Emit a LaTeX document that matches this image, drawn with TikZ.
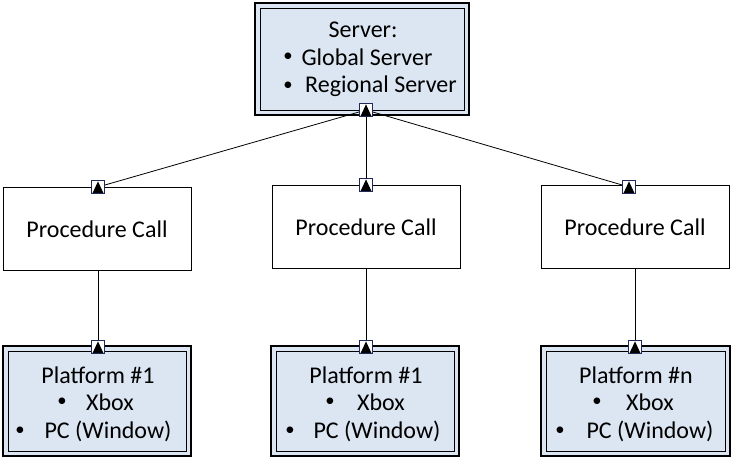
\documentclass[tikz,border=0pt]{standalone}
\usepackage{fontspec}
\setmainfont{Carlito}
\begin{document}
\begin{tikzpicture}[x=0.75pt,y=-0.75pt,
  txt/.style={font=\fontsize{18}{20}\selectfont, inner sep=0pt, anchor=center},
  bul/.style={font=\fontsize{14}{16}\selectfont, inner sep=0pt, anchor=center},
  plain/.style={draw=black, line width=0.5pt, fill=white},
  dbl/.style={draw=black, line width=1.6pt, fill=boxblue},
  dblin/.style={draw=black, line width=0.6pt},
  portmark/.style={draw=navy, line width=0.6pt, fill=white, minimum size=10pt, inner sep=0pt,
    path picture={\fill[black] ([xshift=-4pt,yshift=-4.4pt]path picture bounding box.center) -- ([xshift=4pt,yshift=-4.4pt]path picture bounding box.center) -- ([yshift=4.2pt]path picture bounding box.center) -- cycle;}},
  link/.style={draw=black, line width=0.6pt}]
\definecolor{boxblue}{HTML}{DCE6F2}
\definecolor{navy}{HTML}{1F2A5A}
\useasboundingbox (0,0) rectangle (734,459);
% server
\path[dbl] (255,3) rectangle (469,115);
\path[dblin] (260,8) rectangle (464,110);
\node[txt] (s0) at (363,30) {Server:};
\node[bul] (sb1) at (288,57) {\textbullet};
\node[txt] (s1) at (367,57) {Global Server};
\node[bul] (sb2) at (288,86) {\textbullet};
\node[txt] (s2) at (381,86) {Regional Server};
% procedure boxes
\node[plain, txt, minimum width=141pt, minimum height=62pt] (p1) at (97,229) {Procedure Call};
\node[plain, txt, minimum width=141pt, minimum height=62pt] (p2) at (366,227) {Procedure Call};
\node[plain, txt, minimum width=141pt, minimum height=62pt] (p3) at (635,227) {Procedure Call};
% platforms
\foreach \x/\w in {2/190,270/190,540/191}{
  \path[dbl] (\x+1,346) rectangle (\x+\w-1,456);
  \path[dblin] (\x+6,351) rectangle (\x+\w-6,451);
}
\node[txt] (a0) at (98,375) {Platform \#1};
\node[bul] (ab1) at (62,402) {\textbullet};
\node[txt] (a1) at (110,402) {Xbox};
\node[bul] (ab2) at (20,431) {\textbullet};
\node[txt] (a2) at (108,431) {PC (Window)};
\node[txt] (b0) at (366,375) {Platform \#1};
\node[bul] (bb1) at (330,402) {\textbullet};
\node[txt] (b1) at (381,402) {Xbox};
\node[bul] (bb2) at (290,431) {\textbullet};
\node[txt] (b2) at (377,431) {PC (Window)};
\node[txt] (c0) at (636,375) {Platform \#n};
\node[bul] (cb1) at (597,402) {\textbullet};
\node[txt] (c1) at (650,402) {Xbox};
\node[bul] (cb2) at (560,431) {\textbullet};
\node[txt] (c2) at (650,431) {PC (Window)};
% markers
\node[portmark] (ms) at (366,110) {};
\node[portmark] (m1) at (98,187) {};
\node[portmark] (m2) at (366,185) {};
\node[portmark] (m3) at (629,187) {};
\node[portmark] (n1) at (98,347) {};
\node[portmark] (n2) at (366,347) {};
\node[portmark] (n3) at (635,347) {};
% links
\path[link] (ms) -- (m1);
\path[link] (ms) -- (m2);
\path[link] (ms) -- (m3);
\path[link] (p1.south -| n1) -- (n1);
\path[link] (p2.south -| n2) -- (n2);
\path[link] (p3.south -| n3) -- (n3);
\end{tikzpicture}
\end{document}
